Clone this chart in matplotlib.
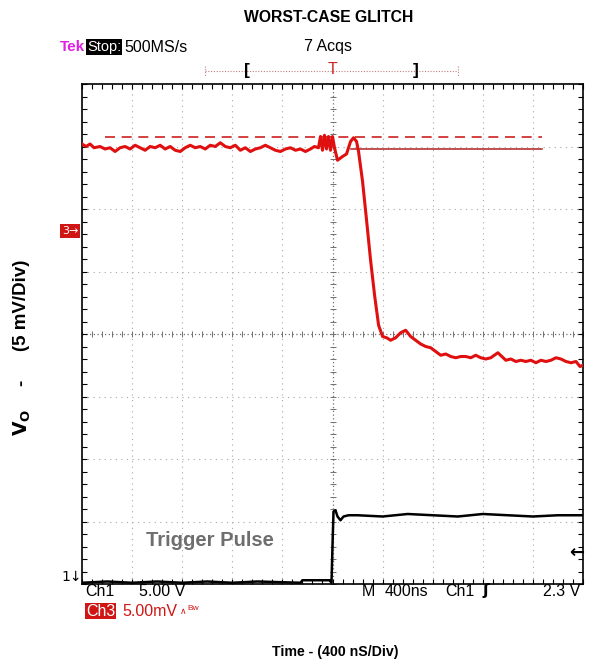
import numpy as np
import matplotlib
matplotlib.use("Agg")
import matplotlib.pyplot as plt

# ---- data (time in ns, Vo in mV relative to screen centre) ----
vo_time_ns = [-2000, -1968, -1936, -1904, -1856, -1816, -1776, -1736, -1696, -1656, -1616,
              -1576, -1536, -1496, -1456, -1416, -1376, -1336, -1296, -1256, -1216, -1176,
              -1136, -1096, -1056, -1016, -976, -936, -896, -856, -816, -776, -736, -696,
              -656, -616, -576, -536, -496, -456, -416, -376, -336, -296, -256, -216,
              -176, -144, -112, -96, -80, -64, -48, -32, -16, 0, 16, 40, 80, 112, 144,
              168, 192, 208, 240, 272, 304, 336, 368, 400, 432, 464, 504, 544, 584, 624,
              664, 704, 744, 784, 824, 864, 904, 944, 984, 1024, 1064, 1104, 1144, 1184,
              1224, 1264, 1320, 1384, 1424, 1464, 1504, 1544, 1584, 1624, 1664, 1704,
              1744, 1784, 1824, 1864, 1904, 1944, 1976, 2000]
vo_mv = [15.2, 15.0, 15.2, 14.9, 15.0, 14.8, 14.9, 14.6, 14.9, 15.0, 14.8, 15.1, 14.9,
         14.7, 15.0, 14.9, 15.1, 14.8, 15.0, 14.7, 14.6, 14.9, 15.1, 14.9, 15.0, 14.8,
         15.1, 15.0, 15.3, 15.0, 14.9, 15.1, 14.7, 14.9, 14.6, 14.8, 14.9, 15.1, 14.9,
         14.7, 14.6, 14.8, 14.9, 14.7, 14.8, 14.6, 14.8, 15.0, 14.9, 15.8, 14.7, 15.9,
         14.8, 15.8, 14.7, 15.8, 14.9, 13.9, 14.2, 14.4, 15.4, 15.7, 15.4, 14.6, 12.2,
         9.1, 5.9, 3.1, 0.7, -0.2, -0.3, -0.5, -0.3, 0.1, 0.3, -0.2, -0.5, -0.8, -1.0,
         -1.1, -1.4, -1.7, -1.6, -1.8, -1.9, -1.8, -1.8, -1.9, -1.7, -1.9, -2.0, -1.9,
         -1.5, -2.1, -2.0, -2.2, -2.1, -2.2, -2.1, -2.3, -2.1, -2.2, -2.1, -1.9, -2.0,
         -2.2, -2.3, -2.2, -2.6, -2.5]

trig_time_ns = [-2000, -1800, -1600, -1400, -1200, -1000, -800, -600, -256, -240, -24,
                -8, 0, 8, 24, 40, 64, 88, 128, 200, 400, 600, 800, 1000, 1200, 1400,
                1600, 1800, 2000]
trig_mv = [-19.9, -19.8, -19.9, -19.8, -19.9, -19.8, -19.9, -19.8, -19.9, -19.7, -19.7,
           -19.9, -16.9, -14.2, -14.1, -14.6, -14.9, -14.6, -14.5, -14.5, -14.6, -14.4,
           -14.5, -14.6, -14.4, -14.5, -14.6, -14.5, -14.5]

upper_dashed_mv = 15.8     # dashed reference level
solid_ref_mv = 14.8        # solid reference level

W, H = 591, 670
fig = plt.figure(figsize=(W / 100, H / 100), dpi=100)
fig.patch.set_facecolor("white")

def fx(px):
    return px / W

def fy(py):
    return 1 - py / H

ax = fig.add_axes([fx(82), fy(584), (583 - 82) / W, (584 - 84) / H])
ax.set_xlim(-2000, 2000)
ax.set_ylim(-20, 20)

# grid
grid_kw = dict(color="#a8a8a8", lw=0.8, ls=(0, (1, 4)), zorder=1)
for gx in np.arange(-1600, 2000, 400):
    if gx != 0:
        ax.axvline(gx, **grid_kw)
for gy in np.arange(-15, 20, 5):
    if gy != 0:
        ax.axhline(gy, **grid_kw)
ax.axvline(0, color="#707070", lw=0.9, ls=(0, (1, 2)), zorder=1)
ax.axhline(0, color="#707070", lw=0.9, ls=(0, (1, 2)), zorder=1)
mx = np.arange(-2000, 2001, 80)
ax.plot(mx, np.zeros_like(mx), ls="none", marker="|", ms=4, color="#707070", mew=0.7, zorder=1)
my = np.arange(-20, 20.01, 1)
ax.plot(np.zeros_like(my), my, ls="none", marker="_", ms=4, color="#707070", mew=0.7, zorder=1)

ax.set_xticks(np.arange(-2000, 2001, 400))
ax.set_xticks(np.arange(-2000, 2001, 80), minor=True)
ax.set_yticks(np.arange(-20, 21, 5))
ax.set_yticks(np.arange(-20, 21, 1), minor=True)
ax.tick_params(which="both", direction="in", top=True, right=True, length=3.5,
               width=0.8, labelbottom=False, labelleft=False, color="black")
for s in ax.spines.values():
    s.set_linewidth(1.2)
    s.set_color("black")

# reference lines
ax.plot([-1816, 1672], [upper_dashed_mv] * 2, color="#cc2020", lw=1.2,
        ls=(0, (6, 4)), zorder=2)
ax.plot([144, 1672], [solid_ref_mv] * 2, color="#b02020", lw=1.1, zorder=2)

# traces
ax.plot(vo_time_ns, vo_mv, color="#e01010", lw=2.2, zorder=4, solid_joinstyle="round")
ax.plot(trig_time_ns, trig_mv, color="black", lw=1.8, zorder=4)

sf = "Liberation Sans"
fs = 11.5

# markers
fig.text(fx(70), fy(231), "3\u2192", color="white", fontsize=8, ha="center", va="center",
         bbox=dict(boxstyle="square,pad=0.15", fc="#d01515", ec="none"))
fig.text(fx(72), fy(577), "1\u2193", color="black", fontsize=10, ha="center", va="center")
fig.text(fx(577), fy(553), "\u2190", color="black", fontsize=13, ha="center", va="center",
         fontweight="bold")

# top status line
fig.text(fx(60), fy(47), "Tek", color="#e020e0", fontsize=11, fontweight="bold",
         ha="left", va="center", family=sf)
fig.text(fx(87), fy(47), "Stop:", color="white", fontsize=10.5, ha="left", va="center",
         family=sf, bbox=dict(boxstyle="square,pad=0.08", fc="black", ec="none"))
fig.text(fx(124), fy(47), "500MS/s", color="black", fontsize=fs, ha="left", va="center",
         family=sf)
fig.text(fx(328), fy(47), "7 Acqs", color="black", fontsize=fs, ha="center", va="center",
         family=sf)

# record bar
bar = fig.add_axes([0, 0, 1, 1], facecolor="none")
bar.set_xlim(0, W)
bar.set_ylim(H, 0)
bar.axis("off")
bar.plot([205, 458], [71, 71], color="#c08080", lw=0.8, ls=(0, (1, 1.5)))
bar.plot([205, 205], [66, 76], color="#c08080", lw=0.8, ls=(0, (1, 1.5)))
bar.plot([458, 458], [66, 76], color="#c08080", lw=0.8, ls=(0, (1, 1.5)))
fig.text(fx(247), fy(70), "[", color="black", fontsize=12.5, ha="center", va="center",
         family=sf, fontweight="bold")
fig.text(fx(416), fy(70), "]", color="black", fontsize=12.5, ha="center", va="center",
         family=sf, fontweight="bold")
fig.text(fx(333), fy(70), "T", color="#d02020", fontsize=fs, ha="center", va="center", family=sf)

# bottom status lines
fig.text(fx(85), fy(591), "Ch1", color="black", fontsize=fs, ha="left", va="center", family=sf)
fig.text(fx(139), fy(591), "5.00 V", color="black", fontsize=fs, ha="left", va="center", family=sf)
fig.text(fx(86), fy(611), "Ch3", color="white", fontsize=fs, ha="left", va="center",
         family=sf, bbox=dict(boxstyle="square,pad=0.05", fc="#d01515", ec="none"))
fig.text(fx(122), fy(611), "5.00mV", color="#d01515", fontsize=fs, ha="left",
         va="center", family=sf)
fig.text(fx(180), fy(612), "\u2227", color="#d01515", fontsize=6.5, ha="left", va="center")
fig.text(fx(187), fy(608), "Bw", color="#d01515", fontsize=6, ha="left", va="center",
         family=sf)
fig.text(fx(362), fy(591), "M", color="black", fontsize=fs, ha="left", va="center", family=sf)
fig.text(fx(385), fy(591), "400ns", color="black", fontsize=fs, ha="left", va="center", family=sf)
fig.text(fx(445), fy(591), "Ch1", color="black", fontsize=fs, ha="left", va="center", family=sf)
fig.text(fx(483), fy(591), "\u0283", color="black", fontsize=fs, ha="left", va="center",
         fontweight="bold")
fig.text(fx(580), fy(591), "2.3 V", color="black", fontsize=fs, ha="right", va="center", family=sf)

# annotation
fig.text(fx(210), fy(541), "Trigger Pulse", color="#6e6e6e", fontsize=14.5,
         fontweight="bold", ha="center", va="center", family=sf)

# titles
fig.text(fx(329), fy(18), "WORST-CASE GLITCH", fontsize=11.3, fontweight="bold",
         ha="center", va="center", family=sf)
fig.text(fx(335), fy(652), "Time - (400 nS/Div)", fontsize=10.2, fontweight="bold",
         ha="center", va="center", family=sf)
fig.text(fx(22), fy(305), "(5 mV/Div)", fontsize=13.5, fontweight="bold",
         ha="center", va="center", rotation=90, family=sf)
fig.text(fx(22), fy(383), "-", fontsize=13.5, fontweight="bold",
         ha="center", va="center", rotation=90, family=sf)
fig.text(fx(22), fy(422), r"$\mathbf{V_O}$", fontsize=13.5,
         ha="center", va="center", rotation=90)

fig.savefig("out.png", dpi=100)
